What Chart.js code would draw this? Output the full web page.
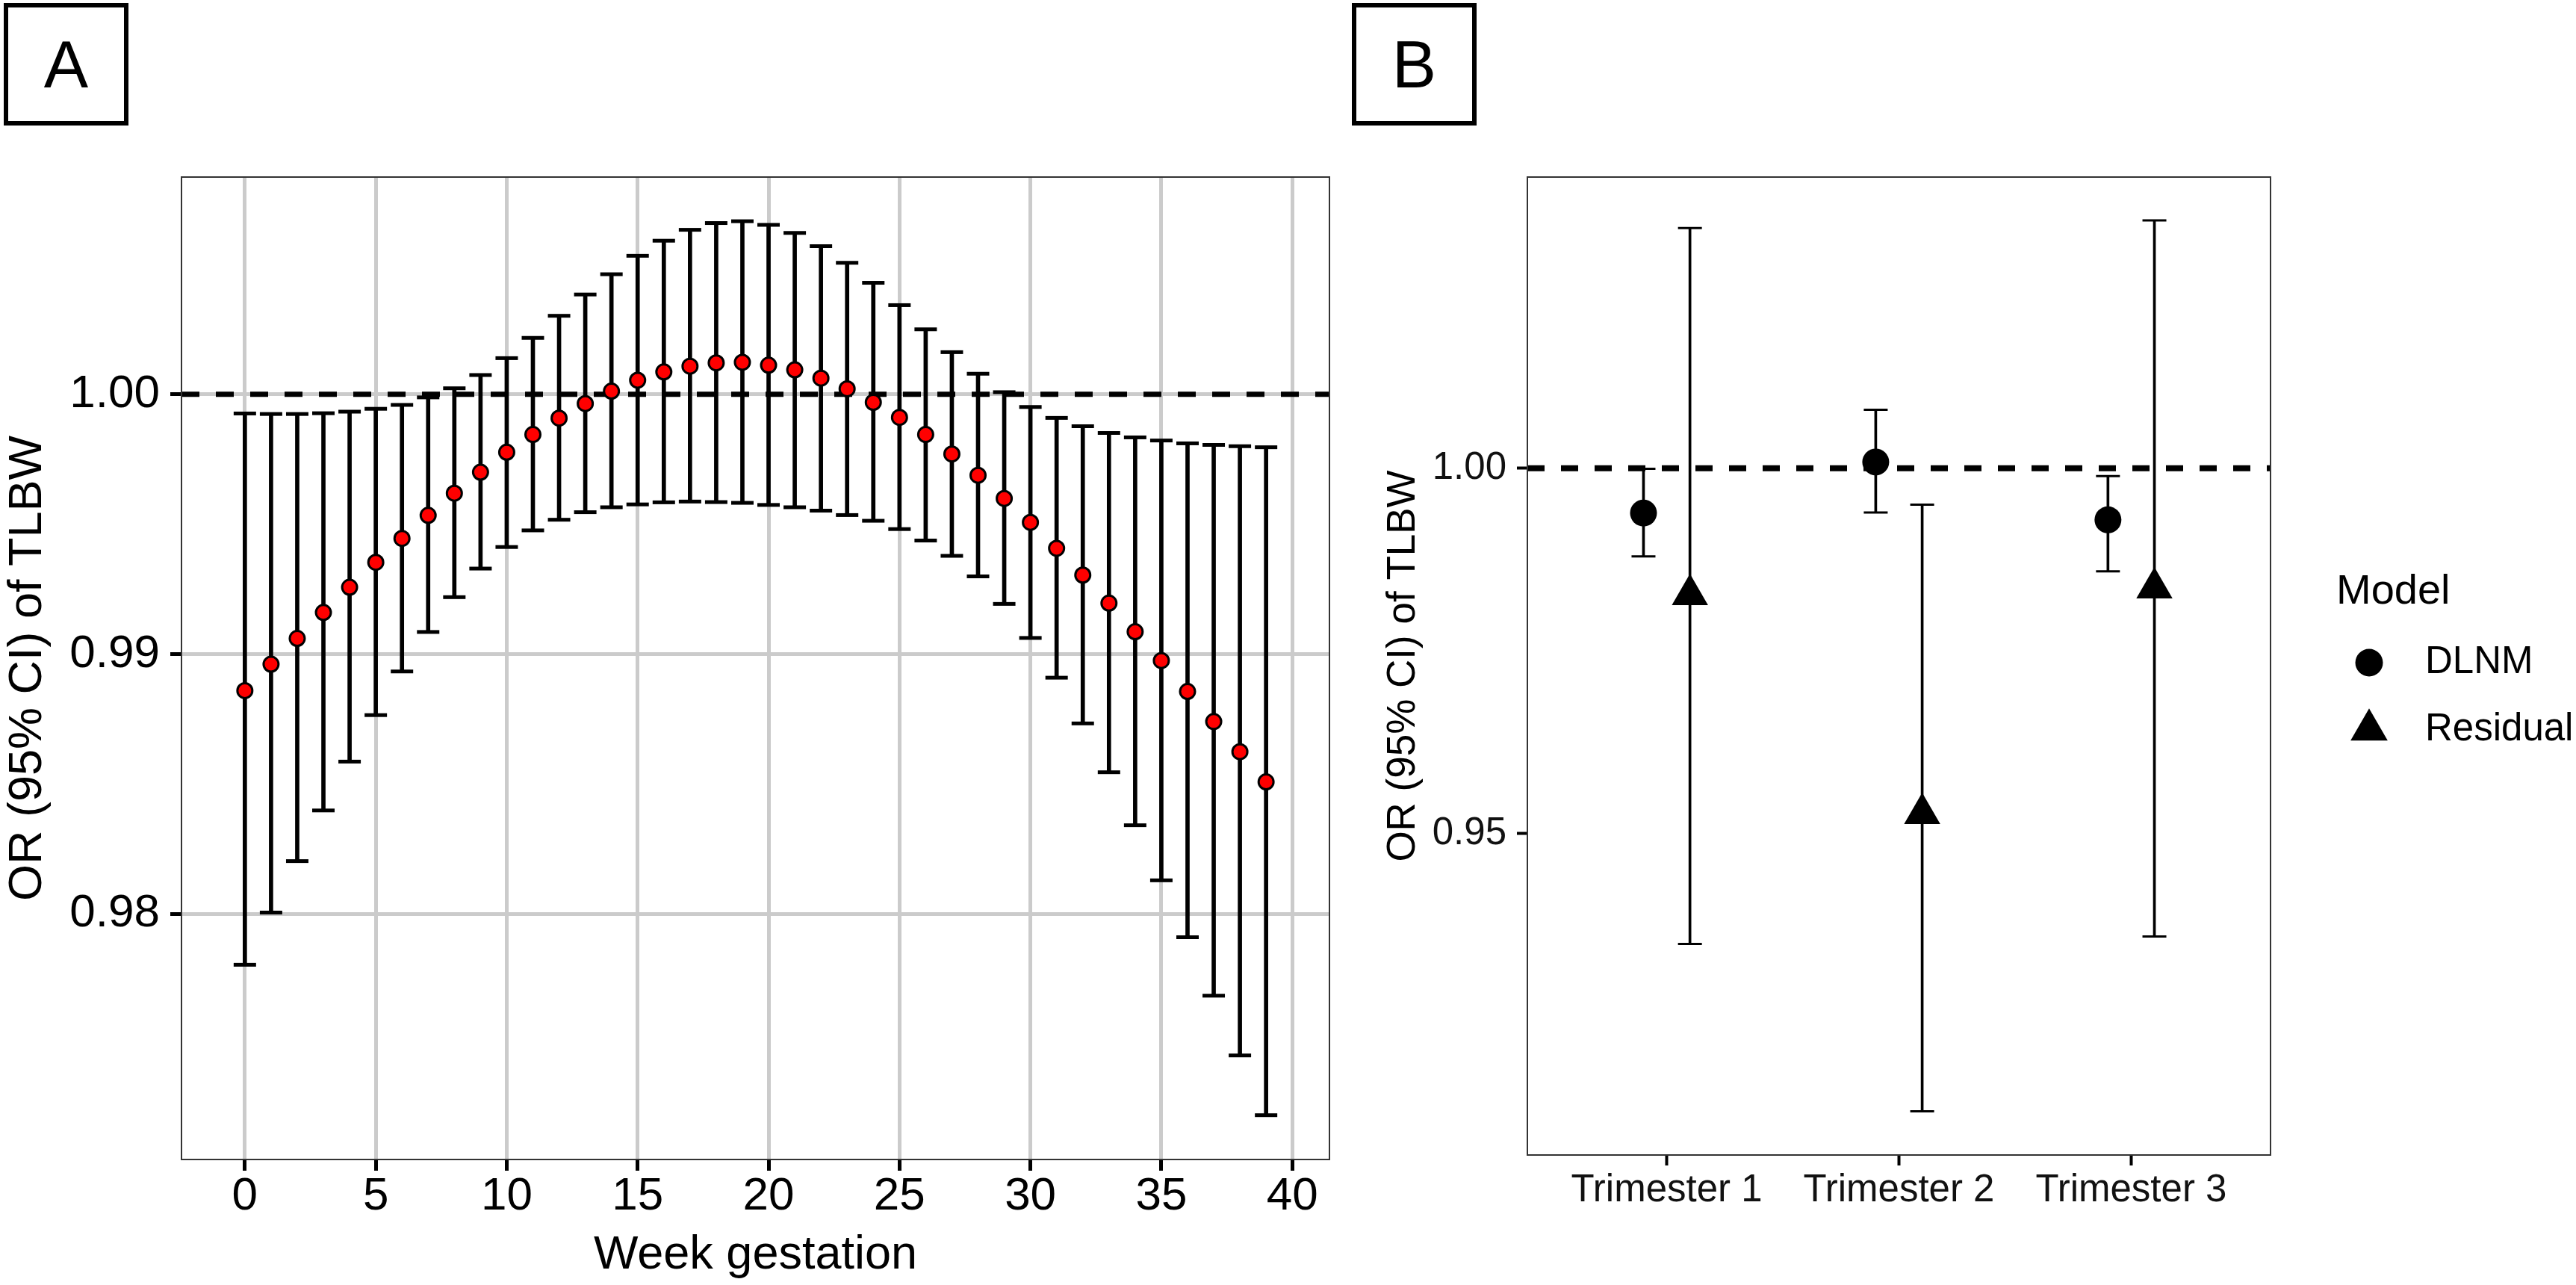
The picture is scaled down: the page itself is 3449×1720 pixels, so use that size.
<!DOCTYPE html>
<html>
<head>
<meta charset="utf-8">
<script src="https://cdn.jsdelivr.net/npm/chart.js@4.4.1/dist/chart.umd.min.js"></script>
<style>
html,body{margin:0;padding:0;background:#fff;width:3449px;height:1720px;overflow:hidden;}
#wrap{position:relative;width:3449px;height:1720px;background:#fff;}
canvas{position:absolute;top:0;}
#cA{left:0;}
#cB{left:1800px;}
.tag{position:absolute;box-sizing:border-box;width:167px;height:164px;border:6px solid #000;
  font-family:"Liberation Sans",Arial,sans-serif;font-size:89px;line-height:1;color:#000;
  display:flex;align-items:center;justify-content:center;}
</style>
</head>
<body>
<div id="wrap">
  <div class="tag" style="left:5px;top:4px;">A</div>
  <div class="tag" style="left:1810px;top:4px;">B</div>
  <canvas id="cA" width="1800" height="1720"></canvas>
  <canvas id="cB" width="1649" height="1720"></canvas>
</div>
<script>
// ---------------- Panel A data ----------------
const weeks = [0,1,2,3,4,5,6,7,8,9,10,11,12,13,14,15,16,17,18,19,20,21,22,23,24,25,26,27,28,29,30,31,32,33,34,35,36,37,38,39];
const orA = [0.98859,0.98961,0.99060,0.99160,0.99257,0.99353,0.99445,0.99534,0.99619,0.99700,
             0.99777,0.99845,0.99908,0.99964,1.00012,1.00054,1.00086,1.00108,1.00121,1.00123,
             1.00112,1.00094,1.00062,1.00021,0.99969,0.99911,0.99845,0.99770,0.99688,0.99599,
             0.99507,0.99407,0.99304,0.99196,0.99086,0.98975,0.98856,0.98740,0.98624,0.98508];
const loA = [0.97804,0.98005,0.98203,0.98398,0.98586,0.98765,0.98933,0.99085,0.99219,0.99329,
             0.99412,0.99476,0.99517,0.99546,0.99565,0.99576,0.99584,0.99587,0.99585,0.99582,
             0.99574,0.99565,0.99552,0.99535,0.99513,0.99481,0.99437,0.99378,0.99299,0.99193,
             0.99062,0.98909,0.98733,0.98545,0.98341,0.98129,0.97910,0.97685,0.97455,0.97225];
const hiA = [0.99926,0.99924,0.99924,0.99927,0.99933,0.99944,0.99959,0.99988,1.00023,1.00074,
             1.00139,1.00217,1.00302,1.00384,1.00462,1.00533,1.00591,1.00633,1.00659,1.00666,
             1.00652,1.00621,1.00570,1.00506,1.00429,1.00343,1.00250,1.00162,1.00079,1.00008,
             0.99951,0.99909,0.99877,0.99851,0.99834,0.99822,0.99811,0.99805,0.99800,0.99796];
const xTicksA = [0,5,10,15,20,25,30,35,40];
const xTickLabelsA = ['0','5','10','15','20','25','30','35','40'];
const yTicksA = [0.98,0.99,1.00];
const yTickLabelsA = ['0.98','0.99','1.00'];

// ---------------- Panel B data ----------------
const trimesters = ['Trimester 1','Trimester 2','Trimester 3'];
const trimesterPos = [1,2,3];
const models = ['DLNM','Residual'];
const orDLNM = [0.99386,1.00085,0.99293];
const loDLNM = [0.98792,0.99393,0.98588];
const hiDLNM = [0.99993,1.00799,0.99891];
const orRes  = [0.98268,0.95272,0.98361];
const loRes  = [0.93486,0.91195,0.93589];
const hiRes  = [1.03288,0.99502,1.03393];
const yTicksB = [0.95,1.00];
const yTickLabelsB = ['0.95','1.00'];
const refOR = 1;

// ---------------- scale limits (ggplot-style expansion) ----------------
const xMinA = -2.42, xMaxA = 41.42;
const yMinA = 0.970545, yMaxA = 1.008360;
const xMinB = 0.4, xMaxB = 3.6;
const yMinB = 0.90597, yMaxB = 1.03986;
const dodgeB = 0.1;

const FONT = '"Liberation Sans", Arial, Helvetica, sans-serif';
Chart.defaults.font.family = FONT;
Chart.defaults.color = '#000';

function framePlugin(color, width) {
  return {
    id: 'frame',
    afterDatasetsDraw(chart) {
      const {ctx, chartArea: a} = chart;
      ctx.save();
      ctx.strokeStyle = color;
      ctx.lineWidth = width;
      ctx.strokeRect(a.left, a.top, a.right - a.left, a.bottom - a.top);
      ctx.restore();
    }
  };
}

// ---------------- Chart A ----------------
new Chart(document.getElementById('cA'), {
  type: 'scatter',
  data: {
    datasets: [
      {
        type: 'scatter', label: 'OR',
        data: weeks.map((w, i) => ({x: w, y: orA[i]})),
        pointStyle: 'circle', pointRadius: 10, pointHoverRadius: 10,
        pointBackgroundColor: '#ff0000', pointBorderColor: '#000', pointBorderWidth: 3,
        order: 0
      },
      {
        type: 'scatter', label: 'CI caps',
        data: weeks.flatMap((w, i) => [{x: w, y: loA[i]}, {x: w, y: hiA[i]}]),
        pointStyle: 'line', pointRadius: 15, pointHoverRadius: 15,
        pointBorderColor: '#000', pointBorderWidth: 5, borderColor: '#000',
        order: 1
      },
      {
        type: 'bar', label: '95% CI',
        data: weeks.map((w, i) => ({x: w, y: [loA[i], hiA[i]]})),
        backgroundColor: '#000', borderWidth: 0, barThickness: 5, grouped: false,
        order: 2
      },
      {
        type: 'line', label: 'OR = 1',
        data: [{x: xMinA, y: refOR}, {x: xMaxA, y: refOR}],
        borderColor: '#000', borderWidth: 7, borderDash: [24, 22],
        pointRadius: 0, fill: false, order: 3
      }
    ]
  },
  options: {
    responsive: false, animation: false, devicePixelRatio: 1,
    layout: {padding: {left: 0, top: 237, right: 15, bottom: 2}},
    plugins: {legend: {display: false}, tooltip: {enabled: false}},
    scales: {
      x: {
        type: 'linear', position: 'bottom', min: xMinA, max: xMaxA, offset: false,
        afterBuildTicks: s => { s.ticks = xTicksA.map(v => ({value: v})); },
        afterFit: s => { s.height = 166; },
        ticks: {font: {size: 62}, color: '#000', padding: -2, maxRotation: 0, autoSkip: false,
                callback: (v, i) => xTickLabelsA[i]},
        grid: {color: '#cbcbcb', lineWidth: 5, drawTicks: true, tickLength: 15,
               tickColor: '#000', tickWidth: 5, offset: false},
        border: {display: false},
        title: {display: true, text: 'Week gestation', font: {size: 63}, color: '#000',
                padding: {top: 0, bottom: 0}}
      },
      y: {
        type: 'linear', position: 'left', min: yMinA, max: yMaxA,
        afterBuildTicks: s => { s.ticks = yTicksA.map(v => ({value: v})); },
        afterFit: s => { s.width = 243; },
        ticks: {font: {size: 62}, color: '#000', padding: 14,
                callback: (v, i) => yTickLabelsA[i]},
        grid: {color: '#cbcbcb', lineWidth: 5, drawTicks: true, tickLength: 15,
               tickColor: '#000', tickWidth: 5},
        border: {display: false},
        title: {display: true, text: 'OR (95% CI) of TLBW', font: {size: 63}, color: '#000',
                padding: {top: 0, bottom: 0}}
      }
    }
  },
  plugins: [framePlugin('#333333', 2)]
});

// ---------------- Chart B ----------------
const legendB = {
  id: 'legendB',
  afterDraw(chart) {
    const ctx = chart.ctx;
    ctx.save();
    ctx.fillStyle = '#000';
    ctx.textAlign = 'left';
    ctx.font = '56px ' + FONT;
    ctx.textBaseline = 'alphabetic';
    ctx.fillText('Model', 1328, 808);
    ctx.font = '51px ' + FONT;
    ctx.textBaseline = 'middle';
    const rows = [887, 977];
    models.forEach((m, k) => {
      const ds = chart.data.datasets.find(d => d.label === m);
      const y = rows[k], x = 1372;
      const r = ds.pointStyle === 'triangle' ? 28.7 : 18.5;
      ctx.beginPath();
      if (ds.pointStyle === 'triangle') {
        for (let j = 0; j < 3; j++) {
          const ang = j * 2 * Math.PI / 3;
          const px = x + Math.sin(ang) * r, py = y - Math.cos(ang) * r;
          if (j === 0) ctx.moveTo(px, py); else ctx.lineTo(px, py);
        }
        ctx.closePath();
      } else {
        ctx.arc(x, y, r, 0, Math.PI * 2);
      }
      ctx.fill();
      ctx.fillText(m, 1447, y);
    });
    ctx.restore();
  }
};

new Chart(document.getElementById('cB'), {
  type: 'scatter',
  data: {
    datasets: [
      {
        type: 'scatter', label: 'DLNM',
        data: trimesterPos.map((p, i) => ({x: p - dodgeB, y: orDLNM[i]})),
        pointStyle: 'circle', pointRadius: 18, pointHoverRadius: 18,
        pointBackgroundColor: '#000', pointBorderWidth: 0, order: 0
      },
      {
        type: 'scatter', label: 'Residual',
        data: trimesterPos.map((p, i) => ({x: p + dodgeB, y: orRes[i]})),
        pointStyle: 'triangle', pointRadius: 28, pointHoverRadius: 28,
        pointBackgroundColor: '#000', pointBorderWidth: 0, order: 0
      },
      {
        type: 'scatter', label: 'DLNM caps',
        data: trimesterPos.flatMap((p, i) => [{x: p - dodgeB, y: loDLNM[i]}, {x: p - dodgeB, y: hiDLNM[i]}]),
        pointStyle: 'line', pointRadius: 16, pointHoverRadius: 16,
        pointBorderColor: '#000', pointBorderWidth: 3, order: 1
      },
      {
        type: 'scatter', label: 'Residual caps',
        data: trimesterPos.flatMap((p, i) => [{x: p + dodgeB, y: loRes[i]}, {x: p + dodgeB, y: hiRes[i]}]),
        pointStyle: 'line', pointRadius: 16, pointHoverRadius: 16,
        pointBorderColor: '#000', pointBorderWidth: 3, order: 1
      },
      {
        type: 'bar', label: 'DLNM CI',
        data: trimesterPos.map((p, i) => ({x: p - dodgeB, y: [loDLNM[i], hiDLNM[i]]})),
        backgroundColor: '#000', borderWidth: 0, barThickness: 3, grouped: false, order: 2
      },
      {
        type: 'bar', label: 'Residual CI',
        data: trimesterPos.map((p, i) => ({x: p + dodgeB, y: [loRes[i], hiRes[i]]})),
        backgroundColor: '#000', borderWidth: 0, barThickness: 3, grouped: false, order: 2
      },
      {
        type: 'line', label: 'OR = 1',
        data: [{x: xMinB, y: refOR}, {x: xMaxB, y: refOR}],
        borderColor: '#000', borderWidth: 8, borderDash: [23, 22],
        pointRadius: 0, fill: false, order: 3
      }
    ]
  },
  options: {
    responsive: false, animation: false, devicePixelRatio: 1,
    layout: {padding: {left: 0, top: 237, right: 409, bottom: 0}},
    plugins: {legend: {display: false}, tooltip: {enabled: false}},
    scales: {
      x: {
        type: 'linear', position: 'bottom', min: xMinB, max: xMaxB, offset: false,
        afterBuildTicks: s => { s.ticks = trimesterPos.map(v => ({value: v})); },
        afterFit: s => { s.height = 174; },
        ticks: {font: {size: 51}, color: '#111', padding: 3, maxRotation: 0, autoSkip: false,
                callback: (v, i) => trimesters[i]},
        grid: {drawOnChartArea: false, drawTicks: true, tickLength: 14,
               tickColor: '#000', tickWidth: 4, offset: false},
        border: {display: false}
      },
      y: {
        type: 'linear', position: 'left', min: yMinB, max: yMaxB,
        afterBuildTicks: s => { s.ticks = yTicksB.map(v => ({value: v})); },
        afterFit: s => { s.width = 245; },
        ticks: {font: {size: 51}, color: '#111', padding: 14,
                callback: (v, i) => yTickLabelsB[i]},
        grid: {drawOnChartArea: false, drawTicks: true, tickLength: 14,
               tickColor: '#000', tickWidth: 4},
        border: {display: false},
        title: {display: true, text: 'OR (95% CI) of TLBW', font: {size: 53}, color: '#000',
                padding: {top: 48, bottom: 0}}
      }
    }
  },
  plugins: [framePlugin('#333333', 2), legendB]
});
</script>
</body>
</html>
